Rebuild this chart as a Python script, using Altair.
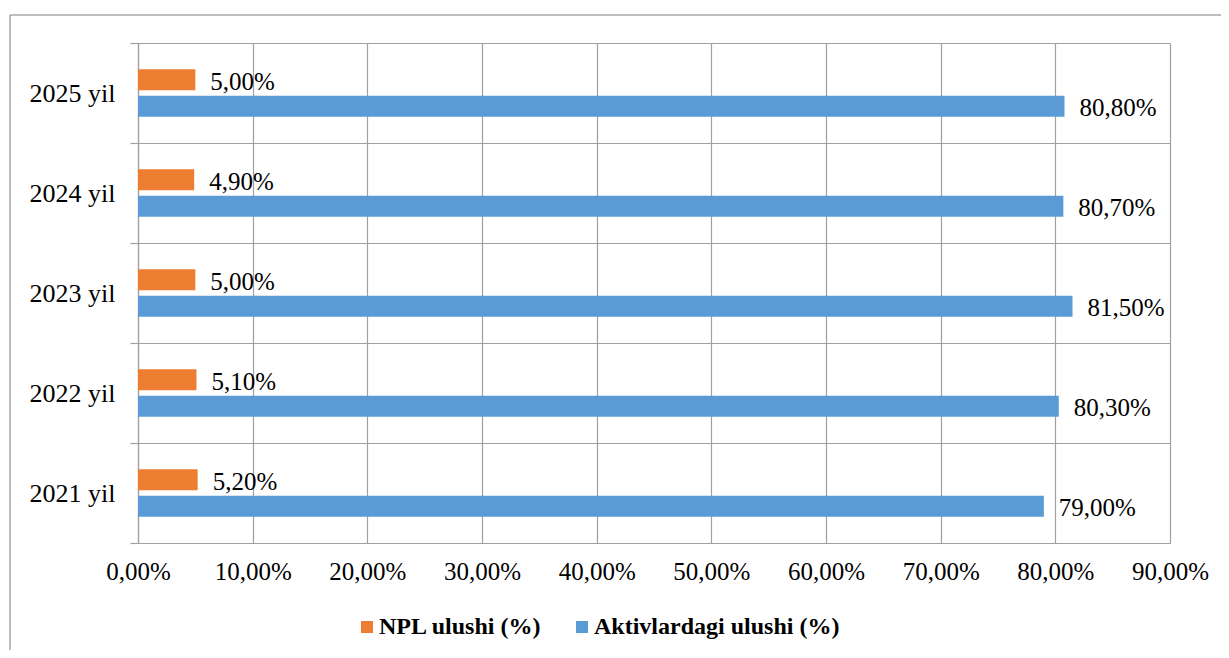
import altair as alt
import pandas as pd

years = ["2021 yil", "2022 yil", "2023 yil", "2024 yil", "2025 yil"]
npl = [5.2, 5.1, 5.0, 4.9, 5.0]
aktiv = [79.0, 80.3, 81.5, 80.7, 80.8]
series = ["NPL ulushi (%)", "Aktivlardagi ulushi (%)"]
colors = ["#ED7D31", "#5B9BD5"]
x_ticks = [0, 10, 20, 30, 40, 50, 60, 70, 80, 90]


def fmt(v):
    return f"{v:.2f}".replace(".", ",") + "%"


rows = []
for y, a, b in zip(years, npl, aktiv):
    rows.append(dict(year=y, series=series[0], value=a, label=fmt(a)))
    rows.append(dict(year=y, series=series[1], value=b, label=fmt(b)))
df = pd.DataFrame(rows)

FONT = "'Times New Roman', 'Liberation Serif', 'DejaVu Serif', serif"
GRID = "#a0a0a0"

y_enc = alt.Y(
    "year:N",
    sort=years[::-1],
    scale=alt.Scale(paddingInner=0, paddingOuter=0),
    axis=alt.Axis(
        title=None, tickBand="extent", grid=True, gridColor=GRID, gridWidth=1.2,
        ticks=True, tickSize=8, tickColor=GRID, tickWidth=1.2,
        domainColor=GRID, domainWidth=1.2,
        labelPadding=15, labelFontSize=26, labelFont=FONT, labelColor="black",
        labelLimit=300,
    ),
)
yoff = alt.YOffset(
    "series:N", sort=series,
    scale=alt.Scale(paddingInner=0.2, paddingOuter=1.0),
)
x_enc = alt.X(
    "value:Q",
    scale=alt.Scale(domain=[0, 90], nice=False),
    axis=alt.Axis(
        values=x_ticks, title=None, ticks=False, grid=True, gridColor=GRID, gridWidth=1.2,
        domainColor=GRID, domainWidth=1.2,
        labelExpr="replace(format(datum.value, '.2f'), '.', ',') + '%'",
        labelOverlap=False, labelFlush=False,
        labelPadding=16, labelFontSize=25, labelFont=FONT, labelColor="black",
    ),
)

base = alt.Chart(df)

bars = base.mark_bar().encode(
    x=x_enc,
    y=y_enc,
    yOffset=yoff,
    color=alt.Color(
        "series:N",
        sort=series,
        scale=alt.Scale(domain=series, range=colors),
        legend=alt.Legend(
            title=None, orient="none", legendX=217, legendY=572,
            direction="horizontal", symbolType="square", symbolSize=144,
            symbolStrokeWidth=0, labelFontSize=24, labelFontWeight="bold",
            labelFont=FONT, labelColor="black", columnPadding=28, labelOffset=0,
            labelLimit=600,
        ),
    ),
)

labels = base.mark_text(
    align="left", baseline="middle", dx=15, dy=2, fontSize=25, font=FONT, color="black"
).encode(
    x=alt.X("value:Q"),
    y=alt.Y("year:N", sort=years[::-1]),
    yOffset=alt.YOffset("series:N", sort=series),
    text="label:N",
)

frame = alt.Data(values=[{}])
frame_left = alt.Chart(frame).mark_rule(color="#a6a6a6", strokeWidth=1.5).encode(
    x=alt.value(-128), y=alt.value(-28), y2=alt.value(640)
)
frame_top = alt.Chart(frame).mark_rule(color="#a6a6a6", strokeWidth=1.5).encode(
    x=alt.value(-128), x2=alt.value(1120), y=alt.value(-28)
)

chart = (
    alt.layer(frame_left, frame_top, bars, labels)
    .properties(
        width=1032,
        height=500,
        autosize=alt.AutoSizeParams(type="none"),
        padding={"left": 130, "top": 35, "right": 51, "bottom": 107},
    )
    .configure_view(stroke=None)
)

chart.save("out.html", embed_options={"renderer": "svg", "actions": False})
